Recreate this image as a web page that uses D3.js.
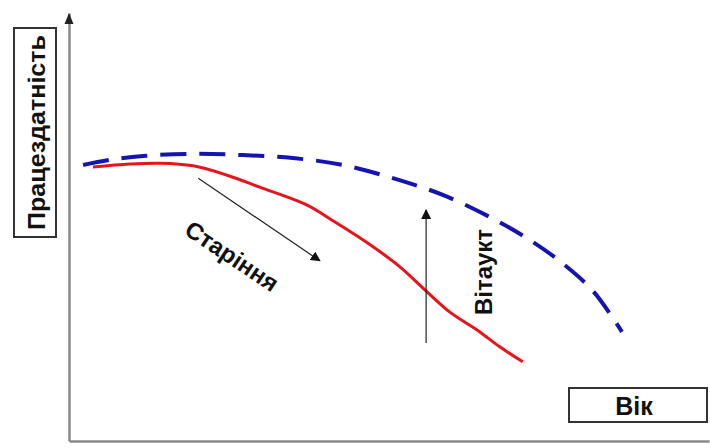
<!DOCTYPE html>
<html><head><meta charset="utf-8">
<script src="https://cdn.jsdelivr.net/npm/d3@7"></script>
<style>html,body{margin:0;padding:0;background:#fff}svg{display:block}</style>
</head><body>
<script>
// Data (age vs. working capacity, arbitrary units 0..100)
const vitauktAge  = [2.2, 6.4, 11.6, 19.4, 27.2, 35, 42.8, 50.6, 58.4, 66.3, 72.5, 77.2, 81.9, 86.4];
const vitauktPerf = [64.5, 65.7, 66.6, 67.1, 66.8, 66.1, 64.5, 61.4, 57.5, 51.9, 46.5, 41.4, 35, 25.5];
const agingAge  = [3.75, 9.5, 14.2, 19.4, 24.7, 29.8, 37.2, 41.3, 46.6, 51.7, 55.6, 59.5, 63.8, 67.3, 70.9];
const agingPerf = [64, 64.7, 64.9, 64.3, 62.1, 59.3, 55.1, 51.4, 46.3, 40.7, 35.3, 30.1, 25.9, 22, 18.5];
const yLabel = "Працездатність";
const xLabel = "Вік";
const agingLabel = "Старіння";
const vitauktLabel = "Вітаукт";
// annotation arrows in data units
const agingArrow = [[20.2, 61.4], [39.2, 42.1]];
const vitauktArrow = [[55.8, 22.9], [55.8, 54]];

const W = 710, H = 448;
const svg = d3.select("body").append("svg").attr("width", W).attr("height", H);
const x = d3.scaleLinear().domain([0, 100]).range([69, 709]);
const y = d3.scaleLinear().domain([0, 100]).range([441, 13]);

const font = "'Liberation Sans', Arial, sans-serif";
const axisCol = "#8a8a8a";

// axes (no ticks)
svg.append("g").attr("transform", `translate(0,${y(0)})`)
  .call(d3.axisBottom(x).ticks(0).tickSizeOuter(0).tickFormat(""))
  .call(g => g.select(".domain").attr("stroke", axisCol).attr("stroke-width", 2.5));
svg.append("g").attr("transform", `translate(${x(0)},0)`)
  .call(d3.axisLeft(y).ticks(0).tickSizeOuter(0).tickFormat(""))
  .call(g => g.select(".domain").attr("stroke", axisCol).attr("stroke-width", 2.5));
// y-axis arrowhead
svg.append("path")
  .attr("d", `M${x(0)},${y(100)} L${x(0)-4.5},${y(100)+11} L${x(0)+4.5},${y(100)+11} Z`)
  .attr("fill", "#222");

// lines
const line = d3.line().x(d => x(d[0])).y(d => y(d[1])).curve(d3.curveCatmullRom.alpha(0.5));
svg.append("path").datum(vitauktAge.map((a, i) => [a, vitauktPerf[i]]))
  .attr("d", line).attr("fill", "none").attr("stroke", "#1414b0")
  .attr("stroke-width", 4).attr("stroke-dasharray", "26,13");
svg.append("path").datum(agingAge.map((a, i) => [a, agingPerf[i]]))
  .attr("d", line).attr("fill", "none").attr("stroke", "#e8141c")
  .attr("stroke-width", 3);

// annotation arrows
const defs = svg.append("defs");
defs.append("marker").attr("id", "ah").attr("viewBox", "0 0 10 10")
  .attr("refX", 9).attr("refY", 5).attr("markerWidth", 10).attr("markerHeight", 10)
  .attr("markerUnits", "userSpaceOnUse").attr("orient", "auto")
  .append("path").attr("d", "M0,0 L10,5 L0,10 Z").attr("fill", "#111");
[agingArrow, vitauktArrow].forEach(a => {
  svg.append("line")
    .attr("x1", x(a[0][0])).attr("y1", y(a[0][1]))
    .attr("x2", x(a[1][0])).attr("y2", y(a[1][1]))
    .attr("stroke", "#222").attr("stroke-width", 1.2)
    .attr("marker-end", "url(#ah)");
});

// labels
svg.append("text").attr("transform", "translate(232,256) rotate(33.7)")
  .attr("text-anchor", "middle").attr("dominant-baseline", "central")
  .attr("font-family", font).attr("font-weight", "bold").attr("font-size", 24)
  .attr("fill", "#111").text(agingLabel);
svg.append("text").attr("transform", "translate(483,272) rotate(-90)")
  .attr("text-anchor", "middle").attr("dominant-baseline", "central")
  .attr("font-family", font).attr("font-weight", "bold").attr("font-size", 24)
  .attr("fill", "#111").text(vitauktLabel);

// Y label box
svg.append("rect").attr("x", 14).attr("y", 28).attr("width", 42).attr("height", 209)
  .attr("fill", "#fff").attr("stroke", "#333").attr("stroke-width", 2);
svg.append("text").attr("transform", "translate(36,132.5) rotate(-90)")
  .attr("text-anchor", "middle").attr("dominant-baseline", "central")
  .attr("font-family", font).attr("font-weight", "bold").attr("font-size", 24)
  .attr("textLength", 195).attr("lengthAdjust", "spacingAndGlyphs")
  .attr("fill", "#111").text(yLabel);

// X label box
svg.append("rect").attr("x", 569).attr("y", 388).attr("width", 138).attr("height", 34)
  .attr("fill", "#fff").attr("stroke", "#333").attr("stroke-width", 2);
svg.append("text").attr("x", 634).attr("y", 406)
  .attr("text-anchor", "middle").attr("dominant-baseline", "central")
  .attr("font-family", font).attr("font-weight", "bold").attr("font-size", 25)
  .attr("fill", "#111").text(xLabel);
</script>
</body></html>
